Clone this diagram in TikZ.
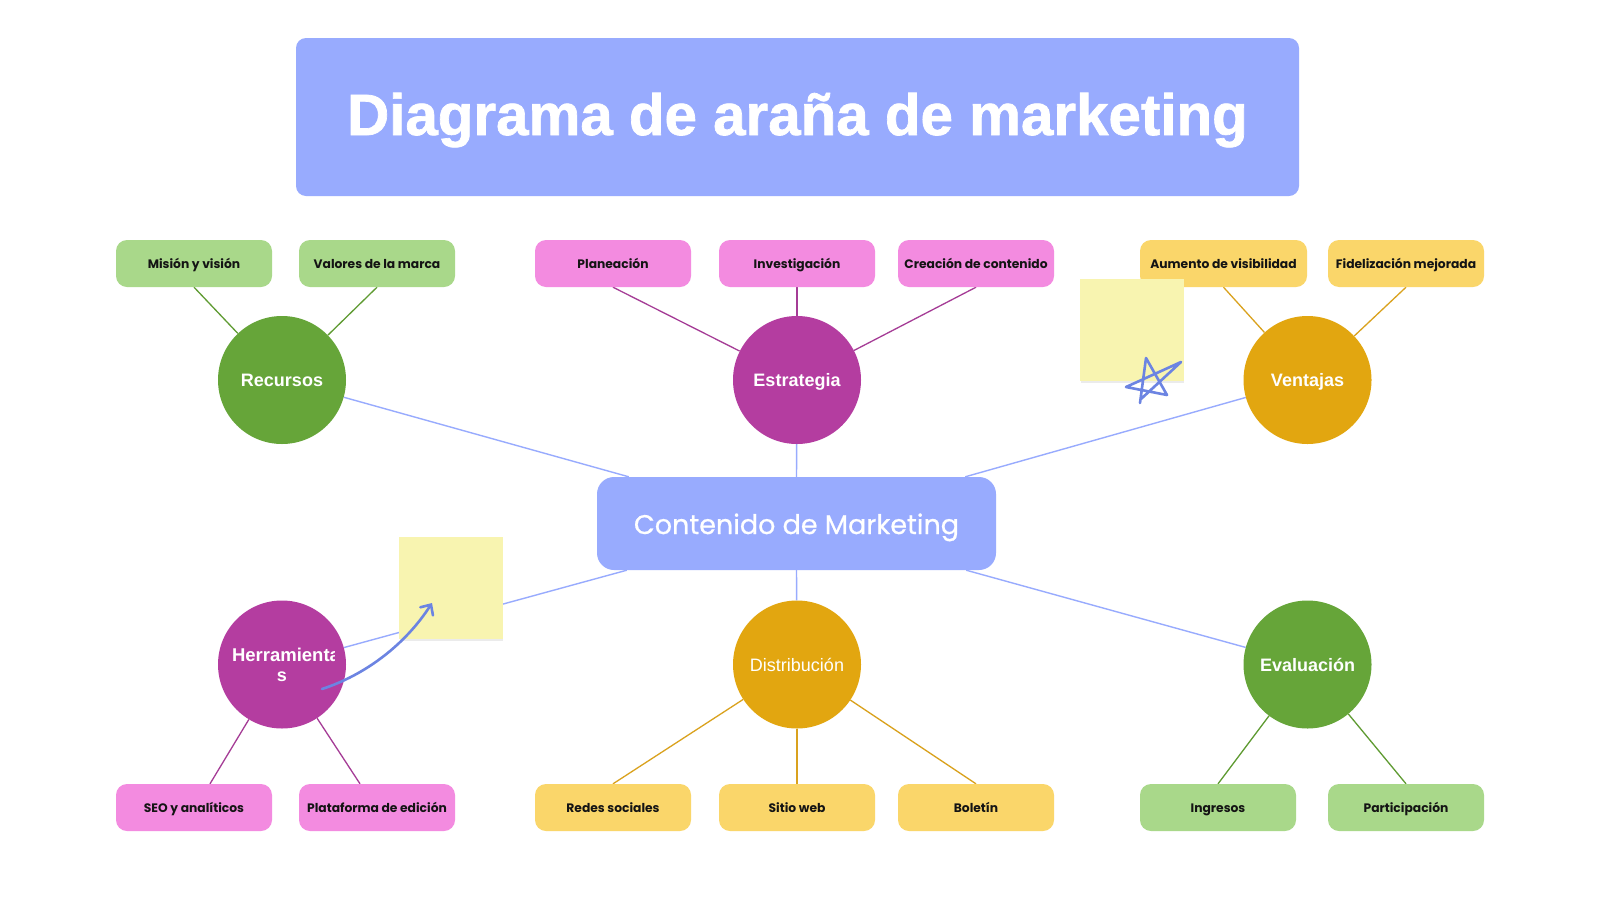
\documentclass[tikz,border=0pt]{standalone}
\usepackage{fontspec}
\setmainfont{Liberation Sans}
\newfontfamily\popfont{Poppins}
\newfontfamily\popmed{Poppins}[FakeBold=0.6]
\newfontfamily\titlefont{Liberation Sans}[FakeBold=1.2]
\usetikzlibrary{arrows.meta}
\definecolor{peri}{RGB}{152,171,254}
\definecolor{grn}{RGB}{102,165,57}
\definecolor{grnl}{RGB}{169,216,138}
\definecolor{grnline}{RGB}{95,155,50}
\definecolor{mag}{RGB}{180,61,160}
\definecolor{pinkl}{RGB}{243,139,224}
\definecolor{magline}{RGB}{165,60,150}
\definecolor{org}{RGB}{226,166,16}
\definecolor{yel}{RGB}{250,214,106}
\definecolor{orgline}{RGB}{218,162,30}
\definecolor{sticky}{RGB}{248,244,176}
\definecolor{scrib}{RGB}{108,132,226}
\definecolor{txt}{RGB}{20,20,20}
\pgfdeclarelayer{bg}\pgfdeclarelayer{fg}\pgfsetlayers{bg,main,fg}
\begin{document}
\begin{tikzpicture}[x=1pt,y=-1pt,
  leaf/.style={rounded corners=11pt, minimum width=156pt, minimum height=47pt, inner sep=0pt, text=txt, font=\popfont\bfseries\fontsize{12.3}{14}\selectfont, text height=9.6pt, text depth=0pt},
  hub/.style={circle, minimum size=128pt, inner sep=0pt, text=white, font=\bfseries\fontsize{18}{20}\selectfont, text height=13pt, text depth=0pt},
  cline/.style={draw=peri, line width=1.4pt},
  gline/.style={draw=grnline, line width=1.3pt},
  mline/.style={draw=magline, line width=1.3pt},
  oline/.style={draw=orgline, line width=1.3pt},
  stickynote/.style={fill=sticky, minimum width=104pt, minimum height=102pt, inner sep=0pt},
  scribble/.style={draw=scrib, line width=2.6pt, line cap=round, line join=round}
]
\begin{pgfonlayer}{bg}
\path[fill=white] (0,0) rectangle (1600,900);
\end{pgfonlayer}
\useasboundingbox (0,0) rectangle (1600,900);

% title
\node[fill=peri, rounded corners=10pt, minimum width=1003pt, minimum height=158pt, inner sep=0pt, text=white, font=\titlefont\bfseries\fontsize{58.3}{60}\selectfont, text height=36pt, text depth=0pt] (title) at (797.5,117) {Diagrama de araña de marketing};

% center
\node[fill=peri, rounded corners=17pt, minimum width=399pt, minimum height=93pt, inner sep=0pt, text=white, font=\popmed\fontsize{27}{30}\selectfont, text height=21pt, text depth=0pt] (cen) at (796.5,523.5) {Contenido de Marketing};

% hubs
\node[hub, fill=grn] (rec) at (282,380) {Recursos};
\node[hub, fill=mag] (est) at (797,380) {Estrategia};
\node[hub, fill=org] (ven) at (1307.5,380) {Ventajas};
\node[hub, fill=mag] (her) at (282,664.5) {};
\node[hub, fill=org, font=\fontsize{18}{20}\selectfont] (dis) at (797,664.5) {Distribución};
\node[hub, fill=grn] (eva) at (1307.5,664.5) {Evaluación};
\begin{scope}
\clip (215,600) rectangle (334,730);
\node[anchor=base, inner sep=0pt, text=white, font=\bfseries\fontsize{18.5}{20}\selectfont] (herA) at (286,661) {Herramienta};
\node[anchor=base, inner sep=0pt, text=white, font=\bfseries\fontsize{18}{20}\selectfont] (herB) at (282,681.5) {s};
\end{scope}

% leaves
\node[leaf, fill=grnl] (mis) at (194,263.5) {Misión y visión};
\node[leaf, fill=grnl] (val) at (377,263.5) {Valores de la marca};
\node[leaf, fill=pinkl] (pla) at (613,263.5) {Planeación};
\node[leaf, fill=pinkl] (inv) at (797,263.5) {Investigación};
\node[leaf, fill=pinkl] (cre) at (976,263.5) {Creación de contenido};
\node[leaf, fill=yel, minimum width=167pt] (aum) at (1223.5,263.5) {Aumento de visibilidad};
\node[leaf, fill=yel] (fid) at (1406,263.5) {Fidelización mejorada};
\node[leaf, fill=pinkl] (seo) at (194,807.5) {SEO y analíticos};
\node[leaf, fill=pinkl] (plat) at (377,807.5) {Plataforma de edición};
\node[leaf, fill=yel] (red) at (613,807.5) {Redes sociales};
\node[leaf, fill=yel] (sit) at (797,807.5) {Sitio web};
\node[leaf, fill=yel] (bol) at (976,807.5) {Boletín};
\node[leaf, fill=grnl] (ing) at (1218,807.5) {Ingresos};
\node[leaf, fill=grnl] (par) at (1406,807.5) {Participación};

% connectors
\begin{pgfonlayer}{bg}
\draw[cline] ([xshift=32pt]cen.north west) -- (rec);
\draw[cline] (cen.north) -- (est);
\draw[cline] ([xshift=-31pt]cen.north east) -- (ven);
\draw[cline] ([xshift=30pt]cen.south west) -- (her);
\draw[cline] (cen.south) -- (dis);
\draw[cline] ([xshift=-30pt]cen.south east) -- (eva);
\draw[gline] (mis.south) -- (rec);
\draw[gline] (val.south) -- (rec);
\draw[mline] (pla.south) -- (est);
\draw[mline] (inv.south) -- (est);
\draw[mline] (cre.south) -- (est);
\draw[oline] (aum.south) -- (ven);
\draw[oline] (fid.south) -- (ven);
\draw[mline] ([xshift=16pt]seo.north) -- (her);
\draw[mline] ([xshift=-17pt]plat.north) -- (her);
\draw[oline] (red.north) -- (dis);
\draw[oline] (sit.north) -- (dis);
\draw[oline] (bol.north) -- (dis);
\draw[gline] (ing.north) -- (eva);
\draw[gline] (par.north) -- (eva);
\end{pgfonlayer}

% sticky notes and scribbles
\begin{pgfonlayer}{fg}
\fill[black!8] (1081,283) rectangle (1184,383);
\node[stickynote] (st1) at (1132,330) {};
\fill[black!8] (400,541) rectangle (503,641);
\node[stickynote] (st2) at (451,588) {};
\draw[scribble] (1140,403) -- (1146,358) -- (1167,395) -- (1126,387) -- (1181,362) -- (1141,399);
\coordinate (arrS) at (322,689);
\coordinate (arrE) at (432,603);
\draw[scribble, -{Straight Barb[length=8pt, width=15pt, line cap=round]}] (arrS) .. controls (365,675) and (405,645) .. (arrE);
\end{pgfonlayer}
\end{tikzpicture}
\end{document}
